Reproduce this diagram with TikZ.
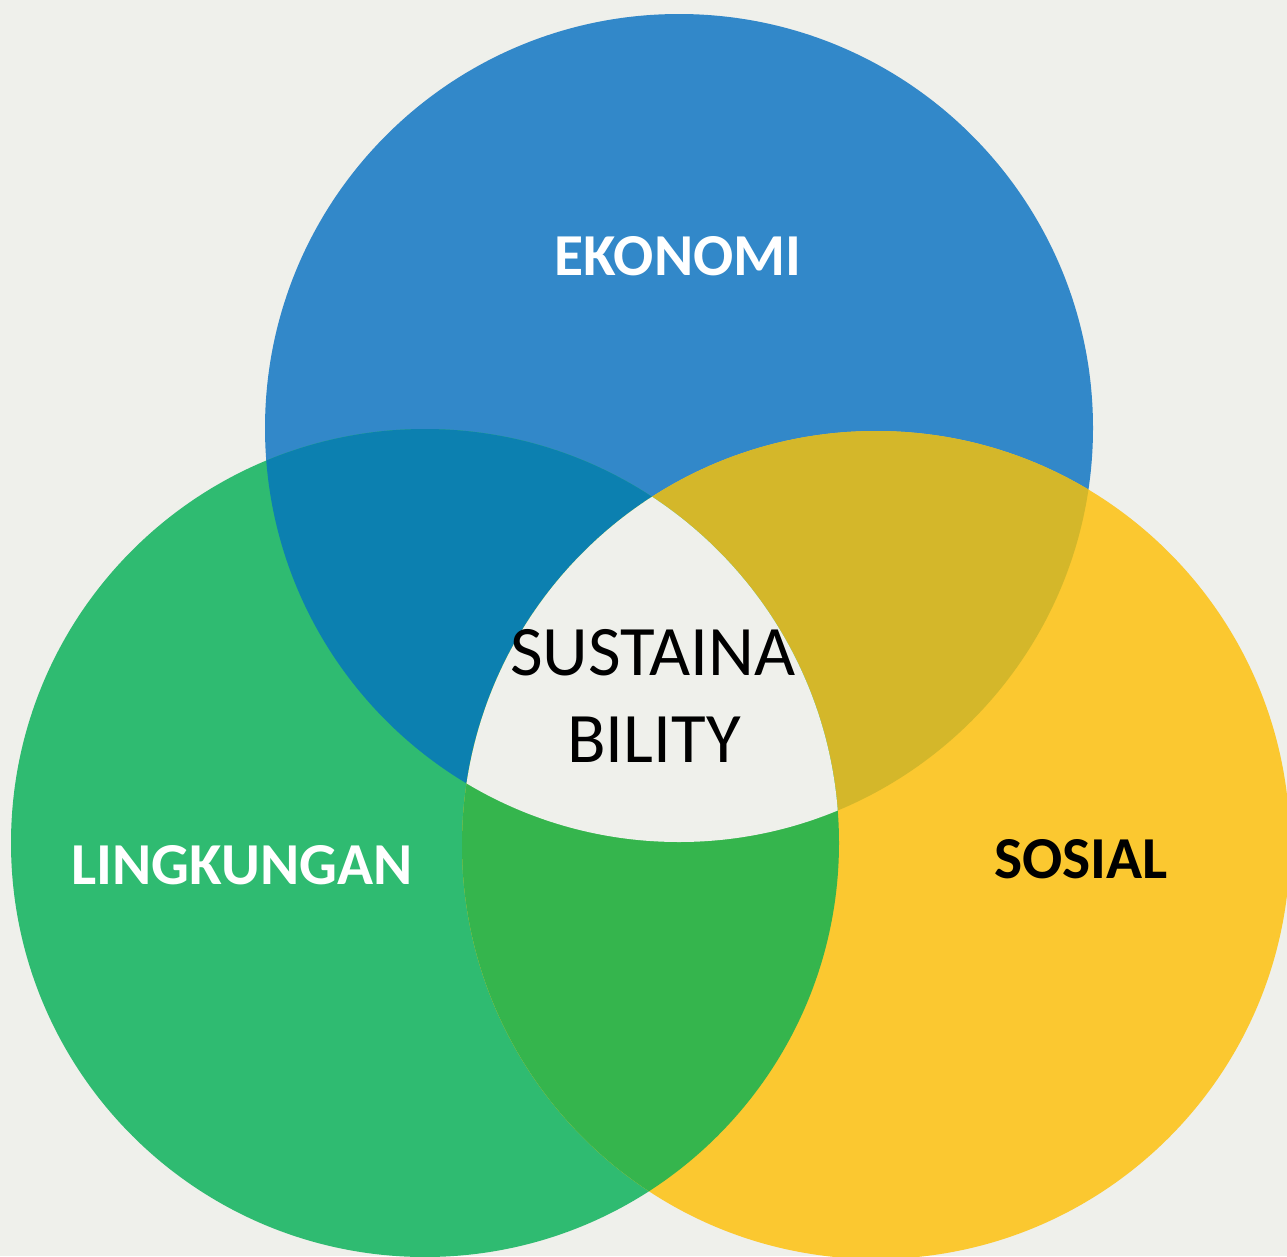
\documentclass[tikz,border=0pt]{standalone}
\usepackage{fontspec}
\setmainfont{Carlito}
\definecolor{paper}{HTML}{EFF0EB}
\definecolor{ecoblue}{HTML}{3288C9}
\definecolor{envgreen}{HTML}{2FBB71}
\definecolor{socyellow}{HTML}{FBC830}
\definecolor{bluegreen}{HTML}{0C80B0}
\definecolor{blueyellow}{HTML}{D4B72A}
\definecolor{greenyellow}{HTML}{35B54D}
\begin{document}
\begin{tikzpicture}[x=1pt,y=-1pt,
  label/.style={font=\bfseries\fontsize{59.5}{60}\selectfont, anchor=base, inner sep=0pt},
  core/.style={font=\fontsize{71}{71}\selectfont, anchor=base, inner sep=0pt, text=black}]
  % canvas
  \useasboundingbox (0,0) rectangle (1287,1256);
  \clip (0,0) rectangle (1287,1256);
  \fill[paper] (0,0) rectangle (1287,1256);

  % circle centres
  \coordinate (cB) at (679,428);
  \coordinate (cG) at (425,843);
  \coordinate (cY) at (876,845);
  \def\r{414pt}

  % the three circles
  \fill[ecoblue]   (cB) circle[radius=\r];
  \fill[envgreen]  (cG) circle[radius=\r];
  \fill[socyellow] (cY) circle[radius=\r];

  % pairwise overlaps
  \begin{scope}
    \clip (cB) circle[radius=\r];
    \fill[bluegreen] (cG) circle[radius=\r];
  \end{scope}
  \begin{scope}
    \clip (cB) circle[radius=\r];
    \fill[blueyellow] (cY) circle[radius=\r];
  \end{scope}
  \begin{scope}
    \clip (cG) circle[radius=\r];
    \fill[greenyellow] (cY) circle[radius=\r];
  \end{scope}

  % centre where all three meet
  \begin{scope}
    \clip (cB) circle[radius=\r];
    \clip (cG) circle[radius=\r];
    \fill[paper] (cY) circle[radius=\r];
  \end{scope}

  % labels
  \node[label, text=white] (eko) at (678,275) {EKONOMI};
  \node[label, text=white] (ling) at (242,884) {LINGKUNGAN};
  \node[label, text=black] (sos) at (1081,878) {SOSIAL};
  \node[core] (sus1) at (653,675) {SUSTAINA};
  \node[core] (sus2) at (654,762) {BILITY};
\end{tikzpicture}
\end{document}
